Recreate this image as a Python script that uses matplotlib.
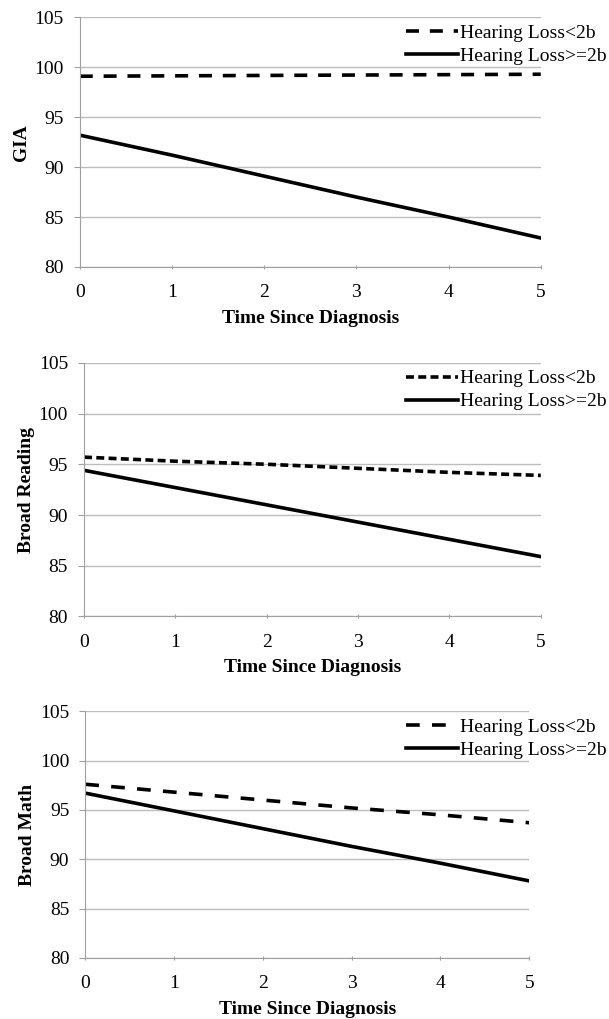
import matplotlib
matplotlib.use("Agg")
import matplotlib.pyplot as plt

years = [0, 1, 2, 3, 4, 5]

gia_low = [99.1, 99.14, 99.18, 99.22, 99.26, 99.3]
gia_high = [93.2, 91.2, 89.1, 87.0, 85.0, 82.9]

reading_low = [95.7, 95.3, 95.0, 94.6, 94.2, 93.9]
reading_high = [94.4, 92.7, 91.0, 89.3, 87.6, 85.9]

math_low = [97.6, 96.8, 96.0, 95.2, 94.5, 93.7]
math_high = [96.7, 94.9, 93.1, 91.3, 89.6, 87.8]

y_labels = ["GIA", "Broad Reading", "Broad Math"]
legend_labels = ["Hearing Loss<2b", "Hearing Loss>=2b"]

plt.rcParams["font.family"] = ["Liberation Serif", "DejaVu Serif"]

fig = plt.figure(figsize=(6.09, 10.19), dpi=100)

# axes rect, series, dash pattern of the <2b line
panels = [
    ([0.131, 0.738, 0.757, 0.245], gia_low, gia_high, (0, (3.6, 3.0))),
    ([0.138, 0.395, 0.750, 0.249], reading_low, reading_high, (0, (2.2, 1.2))),
    ([0.140, 0.060, 0.729, 0.242], math_low, math_high, (0, (3.8, 3.4))),
]

for (rect, low, high, dash), ylab in zip(panels, y_labels):
    ax = fig.add_axes(rect)
    ax.plot(years, low, color="black", linewidth=2.6, linestyle=dash,
            label=legend_labels[0])
    ax.plot(years, high, color="black", linewidth=2.6, label=legend_labels[1])

    ax.set_xlim(0, 5)
    ax.set_ylim(80, 105)
    ax.set_xticks(years)
    ax.set_yticks(range(80, 106, 5))
    ax.yaxis.grid(True, color="#bdbdbd", linewidth=1.0)
    ax.set_axisbelow(True)
    for side in ["top", "right"]:
        ax.spines[side].set_visible(False)
    for side in ["left", "bottom"]:
        ax.spines[side].set_color("#a0a0a0")
    ax.tick_params(axis="both", colors="#a0a0a0", labelcolor="black",
                   labelsize=14)
    ax.tick_params(axis="y", length=4.5, pad=7)
    ax.tick_params(axis="x", length=3, pad=11, direction="inout")
    ax.set_xlabel("Time Since Diagnosis", fontsize=14, fontweight="bold",
                  labelpad=6)
    ax.set_ylabel(ylab, fontsize=14, fontweight="bold", labelpad=3)

    ax.legend(loc="upper right", bbox_to_anchor=(1.0, rect[1] + rect[3] - 0.005),
              bbox_transform=fig.transFigure, frameon=False, fontsize=14,
              handlelength=2.7, handletextpad=0.1, labelspacing=0.28,
              borderaxespad=0.0, borderpad=0.1)

fig.savefig("out.png", dpi=100)
